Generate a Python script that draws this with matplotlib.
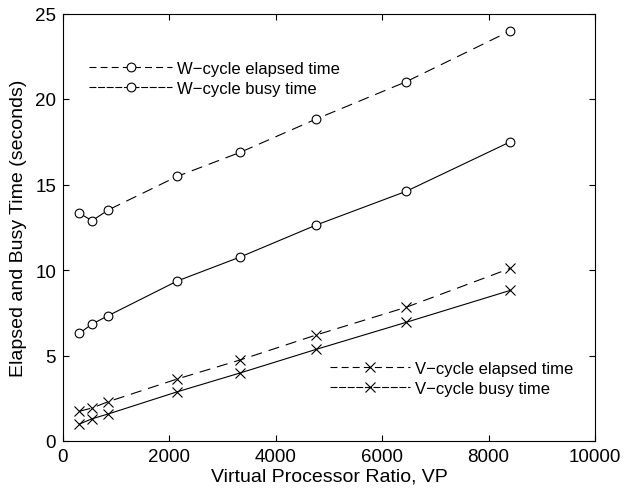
import matplotlib
matplotlib.use("Agg")
import matplotlib.pyplot as plt
from matplotlib.lines import Line2D

plt.rcParams['font.family'] = ['Liberation Sans', 'DejaVu Sans']
plt.rcParams['lines.scale_dashes'] = False

vp = [310, 545, 850, 2150, 3330, 4760, 6450, 8410]
w_elapsed = [13.32, 12.88, 13.51, 15.48, 16.88, 18.83, 21.01, 23.99]
w_busy = [6.30, 6.84, 7.33, 9.36, 10.76, 12.63, 14.60, 17.50]
v_elapsed = [1.74, 1.93, 2.30, 3.63, 4.74, 6.20, 7.82, 10.10]
v_busy = [0.99, 1.30, 1.58, 2.88, 3.98, 5.36, 6.94, 8.81]

xticks = [0, 2000, 4000, 6000, 8000, 10000]
yticks = [0, 5, 10, 15, 20, 25]
labels_w = ["W\u2212cycle elapsed time", "W\u2212cycle busy time"]
labels_v = ["V\u2212cycle elapsed time", "V\u2212cycle busy time"]

fig = plt.figure(figsize=(6.27, 4.89), dpi=100)
ax = fig.add_axes([63/627, 47/489, 532/627, (442-14.5)/489])

lw = 0.8
dash = (8, 5)
circ = dict(marker='o', markersize=6.3, markerfacecolor='white', markeredgecolor='black', markeredgewidth=0.8)
xm = dict(marker='x', markersize=6.5, markeredgecolor='black', markeredgewidth=0.8)

ax.plot(vp, w_elapsed, color='black', lw=lw, linestyle=(0, dash), **circ)
ax.plot(vp, w_busy, color='black', lw=lw, linestyle='-', **circ)
ax.plot(vp, v_elapsed, color='black', lw=lw, linestyle=(0, dash), **xm)
ax.plot(vp, v_busy, color='black', lw=lw, linestyle='-', **xm)

ax.set_xlim(0, 10000)
ax.set_ylim(0, 25)
ax.set_xticks(xticks)
ax.set_yticks(yticks)
ax.tick_params(direction='in', top=True, right=True, length=4, width=0.8, labelsize=13.5, pad=5)
for s in ax.spines.values():
    s.set_linewidth(0.8)

ax.set_xlabel("Virtual Processor Ratio, VP", fontsize=14, labelpad=2)
ax.set_ylabel("Elapsed and Busy Time (seconds)", fontsize=14, labelpad=6)

hw = [Line2D([], [], color='black', lw=lw, linestyle=(0, (5, 3)), **circ),
      Line2D([], [], color='black', lw=lw, linestyle=(0, (5, 1.2)), **circ)]
leg1 = ax.legend(hw, labels_w, loc='upper left', bbox_to_anchor=(0.049, 0.889),
                 frameon=False, fontsize=12, handlelength=5.0, handletextpad=0.25,
                 labelspacing=0.3, borderpad=0, borderaxespad=0, numpoints=1)
ax.add_artist(leg1)

hv = [Line2D([], [], color='black', lw=lw, linestyle=(0, (5, 3)), **xm),
      Line2D([], [], color='black', lw=lw, linestyle=(0, (5, 1.2)), **xm)]
ax.legend(hv, labels_v, loc='upper left', bbox_to_anchor=(0.502, 0.187),
          frameon=False, fontsize=12, handlelength=4.8, handletextpad=0.3,
          labelspacing=0.3, borderpad=0, borderaxespad=0, numpoints=1)

fig.savefig("out.png", dpi=100)
